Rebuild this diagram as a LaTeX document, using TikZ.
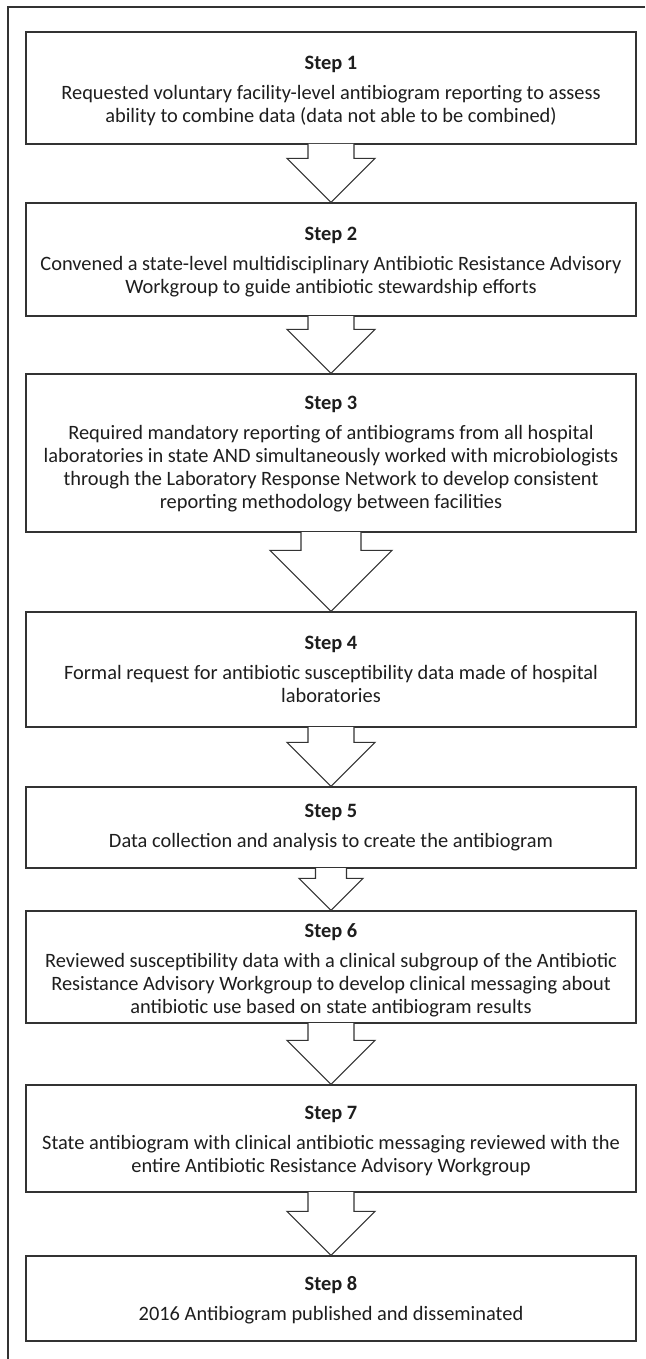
\documentclass[tikz,border=0pt]{standalone}
\usepackage{fontspec}
\setmainfont{Carlito}
\usetikzlibrary{calc}
\definecolor{ink}{HTML}{1E1E1E}
\definecolor{edge}{HTML}{333333}
\tikzset{
  stepbox/.style={draw=edge, line width=1.3pt, minimum width=610pt, minimum height=#1, inner sep=0pt, fill=white},
  steptext/.style={anchor=north, inner sep=0pt, align=center, text=ink, font=\fontsize{20.4}{23}\selectfont},
  blockarrow/.style={draw=edge, line width=1.1pt, fill=white, line join=miter},
  frameline/.style={draw=edge, line width=1.3pt},
}
\newcommand\blockarr[4]{%
  \draw[blockarrow] ($(#1.south)+(-#3pt,0.65pt)$) |- ($(#2.north)+(-#4pt,#4pt)$) -- (#2.north) -- ($(#2.north)+(#4pt,#4pt)$) -| ($(#1.south)+(#3pt,0.65pt)$);
}
\begin{document}
\begin{tikzpicture}[x=1pt,y=-1pt]
\useasboundingbox (0,0) rectangle (645,1359);
\draw[frameline] (645,7) -- (8,7) -- (8,1359);

\node[stepbox=112pt] (s1) at (331,88) {};
\node[stepbox=113pt] (s2) at (331,259.5) {};
\node[stepbox=158pt] (s3) at (331,453) {};
\node[stepbox=115pt] (s4) at (331,669.5) {};
\node[stepbox=81pt]  (s5) at (331,827.5) {};
\node[stepbox=112pt] (s6) at (331,967) {};
\node[stepbox=107pt] (s7) at (331,1138.5) {};
\node[stepbox=85pt]  (s8) at (331,1298.5) {};

\node[steptext] (t1) at (331,56.4) {\textbf{Step 1}\\[7pt]Requested voluntary facility-level antibiogram reporting to assess\\ability to combine data (data not able to be combined)};
\node[steptext] (t2) at (331,227.4) {\textbf{Step 2}\\[7pt]Convened a state-level multidisciplinary Antibiotic Resistance Advisory\\Workgroup to guide antibiotic stewardship efforts};
\node[steptext] (t3) at (331,396.4) {\textbf{Step 3}\\[7pt]Required mandatory reporting of antibiograms from all hospital\\laboratories in state AND simultaneously worked with microbiologists\\through the Laboratory Response Network to develop consistent\\reporting methodology between facilities};
\node[steptext] (t4) at (331,636.4) {\textbf{Step 4}\\[7pt]Formal request for antibiotic susceptibility data made of hospital\\laboratories};
\node[steptext] (t5) at (331,804.4) {\textbf{Step 5}\\[7pt]Data collection and analysis to create the antibiogram};
\node[steptext] (t6) at (331,923.4) {\textbf{Step 6}\\[7pt]Reviewed susceptibility data with a clinical subgroup of the Antibiotic\\Resistance Advisory Workgroup to develop clinical messaging about\\antibiotic use based on state antibiogram results};
\node[steptext] (t7) at (331,1106.4) {\textbf{Step 7}\\[7pt]State antibiogram with clinical antibiotic messaging reviewed with the\\entire Antibiotic Resistance Advisory Workgroup};
\node[steptext] (t8) at (331,1276.4) {\textbf{Step 8}\\[7pt]2016 Antibiogram published and disseminated};

\blockarr{s1}{s2}{23}{44}
\blockarr{s2}{s3}{23}{44}
\blockarr{s3}{s4}{30}{61}
\blockarr{s4}{s5}{23}{44}
\blockarr{s5}{s6}{15.5}{32}
\blockarr{s6}{s7}{23}{44}
\blockarr{s7}{s8}{23}{44}
\end{tikzpicture}
\end{document}
